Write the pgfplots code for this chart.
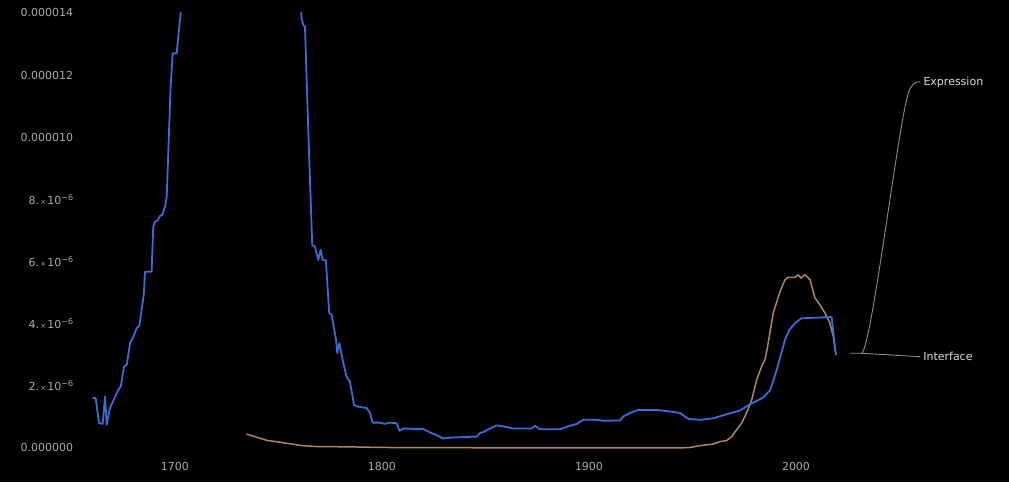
\documentclass[border=0pt]{standalone}
\usepackage{pgfplots}
\pgfplotsset{compat=1.18}
\usepackage{pgfplotstable}
\usepackage{fontspec}
\setmainfont{DejaVu Sans}
\definecolor{blueline}{RGB}{58,108,218}
\definecolor{tanline}{RGB}{172,134,92}
\definecolor{ticklab}{RGB}{170,170,170}
\definecolor{lab}{RGB}{220,220,220}
\definecolor{leader}{RGB}{140,140,140}
% values in units of 10^-6
\pgfplotstableread{
year val
1660.2 1.60
1661.7 1.60
1663.3 0.79
1665.1 0.77
1666.2 1.65
1667.0 0.74
1668.6 1.28
1672.6 1.87
1673.8 1.97
1675.4 2.62
1676.7 2.67
1678.3 3.37
1679.9 3.58
1681.5 3.85
1682.8 3.93
1685.0 4.98
1685.5 5.67
1688.7 5.67
1689.5 7.12
1690.3 7.28
1691.6 7.32
1692.8 7.47
1693.9 7.50
1695.2 7.77
1696.0 8.09
1696.8 9.59
1697.9 11.63
1698.9 12.70
1700.8 12.70
1702.4 13.78
1705.0 15.5
1712.0 18.5
1722.0 21.0
1735.0 22.0
1748.0 21.0
1756.0 18.0
1759.0 16.0
1761.2 13.82
1762.0 13.60
1762.8 13.56
1764.4 10.20
1766.3 6.53
1767.6 6.48
1769.2 6.05
1770.4 6.37
1771.3 6.05
1772.9 6.03
1774.5 4.34
1775.7 4.28
1777.8 3.48
1778.4 3.05
1779.4 3.37
1781.3 2.73
1782.9 2.29
1784.5 2.13
1786.5 1.38
1788.1 1.33
1792.6 1.28
1794.2 1.12
1795.5 0.81
1799.0 0.81
1801.4 0.77
1803.5 0.81
1807.1 0.79
1808.4 0.55
1810.3 0.62
1820.0 0.60
1824.0 0.47
1826.4 0.41
1829.3 0.30
1833.7 0.33
1845.7 0.36
1847.3 0.47
1849.3 0.52
1852.2 0.62
1855.4 0.72
1858.6 0.69
1863.4 0.62
1872.3 0.62
1873.9 0.71
1876.3 0.60
1886.0 0.60
1890.8 0.71
1894.1 0.77
1897.2 0.90
1903.7 0.90
1906.9 0.87
1915.0 0.88
1916.6 1.01
1919.8 1.12
1923.8 1.22
1932.7 1.22
1939.1 1.17
1944.0 1.12
1948.0 0.93
1953.6 0.90
1960.0 0.95
1966.5 1.08
1972.9 1.20
1977.8 1.40
1984.2 1.62
1987.4 1.85
1989.0 2.15
1990.7 2.51
1992.3 2.90
1994.7 3.48
1996.8 3.80
1999.5 4.01
2002.7 4.17
2017.2 4.21
2019.3 2.99
}\interfacedata
\pgfplotstableread{
year val
1734.6 0.44
1744.3 0.24
1750.7 0.18
1761.2 0.07
1768.5 0.04
1784.5 0.03
1800.0 0.01
1850.0 0.00
1900.0 0.00
1945.0 0.00
1948.8 0.01
1953.6 0.07
1960.0 0.12
1963.3 0.20
1966.5 0.23
1968.9 0.36
1971.3 0.58
1973.8 0.80
1976.1 1.12
1978.6 1.54
1981.0 2.19
1983.4 2.62
1985.0 2.83
1986.0 3.15
1989.0 4.34
1992.3 5.03
1994.7 5.41
1996.3 5.49
1999.5 5.49
2001.1 5.57
2002.3 5.46
2004.3 5.57
2006.8 5.41
2009.2 4.82
2011.6 4.60
2014.0 4.34
2016.4 4.01
2018.0 3.58
2019.3 2.99
}\expressiondata
\newcommand{\sci}[1]{#1.{\fontsize{7}{7}\selectfont\,×\,}10\raisebox{4pt}{\fontsize{8}{8}\selectfont −6}}
\begin{document}
\begin{tikzpicture}[x=1pt,y=1pt]
\fill[black] (0,0) rectangle (1009,482);
\useasboundingbox (0,0) rectangle (1009,482);
\begin{axis}[
  at={(77.7pt,28pt)}, anchor=south west,
  scale only axis, width=931.3pt, height=441pt,
  xmin=1653, xmax=2102.9, ymin=-0.2, ymax=14,
  axis line style={draw=none}, major tick length=0pt,
  xtick={1700,1800,1900,2000},
  xticklabels={1700,1800,1900,2000},
  ytick={0,2,4,6,8,10,12,14},
  yticklabels={0.000000,\sci{2},\sci{4},\sci{6},\sci{8},0.000010,0.000012,0.000014},
  ticklabel style={font=\fontsize{11}{13}\selectfont, text=ticklab},
  xticklabel style={yshift=-5pt},
  yticklabel style={xshift=-1pt},
  clip=true,
]
\addplot[tanline, line width=1.5pt, line join=round] table[x=year,y=val]{\expressiondata};
\addplot[blueline, line width=1.8pt, line join=round] table[x=year,y=val]{\interfacedata};
\end{axis}
\draw[leader, line width=0.9pt] (850,128.7) -- (861.7,128.7) -- (920,125.3);
\draw[leader, line width=0.9pt] (861.7,128.7) .. controls (872,136) and (899,365) .. (909,391)
   .. controls (912,398) and (915,400.3) .. (920,400.3);
\node[anchor=base west, text=lab, font=\fontsize{11}{13}\selectfont, inner sep=3.3pt] at (920,396.5) {Expression};
\node[anchor=base west, text=lab, font=\fontsize{11}{13}\selectfont, inner sep=3.3pt] at (919.8,121.5) {Interface};
\end{tikzpicture}
\end{document}
